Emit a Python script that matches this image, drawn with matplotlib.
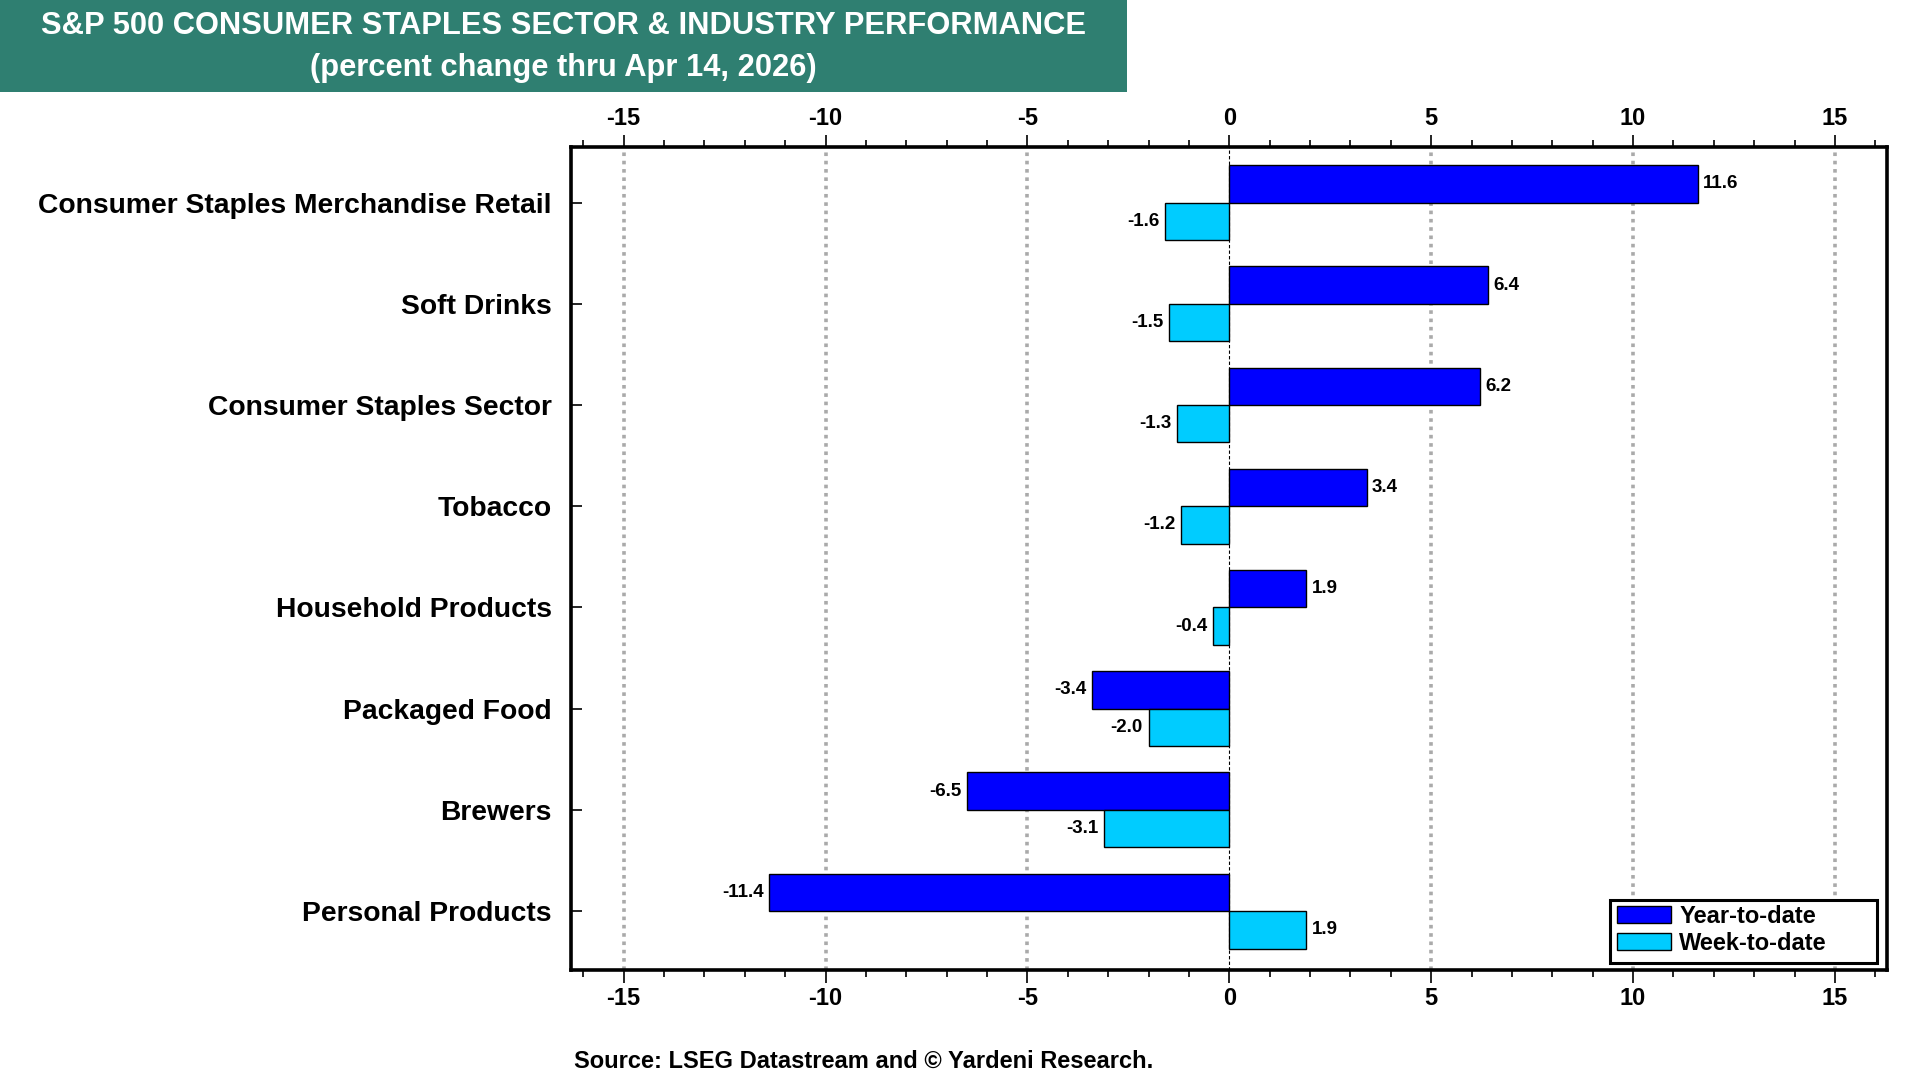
import matplotlib
matplotlib.use("Agg")
import matplotlib.pyplot as plt
from matplotlib.patches import Rectangle
from matplotlib.ticker import MultipleLocator
import numpy as np

categories = ["Consumer Staples Merchandise Retail", "Soft Drinks", "Consumer Staples Sector",
              "Tobacco", "Household Products", "Packaged Food", "Brewers", "Personal Products"]
ytd = [11.6, 6.4, 6.2, 3.4, 1.9, -3.4, -6.5, -11.4]
wtd = [-1.6, -1.5, -1.3, -1.2, -0.4, -2.0, -3.1, 1.9]
series_names = ["Year-to-date", "Week-to-date"]
xticks = [-15, -10, -5, 0, 5, 10, 15]

title1 = "S&P 500 CONSUMER STAPLES SECTOR & INDUSTRY PERFORMANCE"
title2 = "(percent change thru Apr 14, 2026)"
source = "Source: LSEG Datastream and \u00a9 Yardeni Research."

plt.rcParams['font.family'] = ['Liberation Sans', 'DejaVu Sans']
plt.rcParams['font.weight'] = 'bold'

fig = plt.figure(figsize=(19.2, 10.8), dpi=100)
ax = fig.add_axes([0.2975, 0.102, 0.6855, 0.762])

# title box
fig.patches.append(Rectangle((0, 0.915), 0.587, 0.085, transform=fig.transFigure,
                             facecolor="#2F7F71", edgecolor="none", zorder=0))
narrow = ['Liberation Sans Narrow', 'Liberation Sans', 'DejaVu Sans']
fig.text(0.2935, 0.976, title1, ha='center', va='center', color='white',
         fontsize=22.2, fontweight='bold', family=narrow)
fig.text(0.2935, 0.937, title2, ha='center', va='center', color='white',
         fontsize=22.2, fontweight='bold', family=narrow)
fig.text(0.299, 0.017, source, ha='left', va='center', color='black',
         fontsize=17, fontweight='bold', family=narrow)

y = np.arange(len(categories))
h = 0.37
c_ytd = "#0000FF"
c_wtd = "#00CCFF"
b1 = ax.barh(y - h / 2, ytd, height=h, color=c_ytd, edgecolor='black', linewidth=1,
             label=series_names[0], zorder=3)
b2 = ax.barh(y + h / 2, wtd, height=h, color=c_wtd, edgecolor='black', linewidth=1,
             label=series_names[1], zorder=3)

for bars, vals in ((b1, ytd), (b2, wtd)):
    for rect, v in zip(bars, vals):
        yc = rect.get_y() + rect.get_height() / 2
        if v >= 0:
            ax.annotate(f"{v:.1f}", (v, yc), xytext=(4, 0), textcoords='offset points',
                        ha='left', va='center', fontsize=13.5, fontweight='bold', family=narrow)
        else:
            ax.annotate(f"{v:.1f}", (v, yc), xytext=(-4, 0), textcoords='offset points',
                        ha='right', va='center', fontsize=13.5, fontweight='bold', family=narrow)

ax.set_xlim(-16.3, 16.3)
ax.set_ylim(len(categories) - 1 + 0.58, -0.55)

for xv in xticks:
    if xv == 0:
        ax.axvline(xv, color='black', linestyle=(0, (3, 2)), linewidth=0.8, zorder=2)
    else:
        ax.axvline(xv, color='#AAAAAA', linestyle=(0, (1, 1.3)), linewidth=2.6, zorder=1)

ax.set_xticks(xticks)
ax.xaxis.set_minor_locator(MultipleLocator(1))
ax.tick_params(axis='x', which='major', direction='out', length=9, width=1.2,
               top=True, bottom=True, labeltop=True, labelbottom=True,
               labelsize=17, pad=3)
ax.tick_params(axis='x', which='minor', direction='out', length=5, width=1.2,
               top=True, bottom=True)
ax.set_xticklabels([str(v) for v in xticks], fontweight='bold')

ax.set_yticks(y)
ax.set_yticklabels(categories, fontsize=20.3, fontweight='bold')
ax.tick_params(axis='y', which='major', direction='in', length=8, width=1.2,
               left=True, right=False, pad=14)

for s in ax.spines.values():
    s.set_linewidth(2.6)
    s.set_color('black')

# legend frame drawn separately (wide box with extra right space, as in reference)
frame = Rectangle((0.8385, 0.108), 0.139, 0.059, transform=fig.transFigure,
                  facecolor='white', edgecolor='black', linewidth=2.2, zorder=5,
                  clip_on=False)
ax.add_patch(frame)
leg = ax.legend(loc='upper left', bbox_to_anchor=(0.842, 0.162),
                bbox_transform=fig.transFigure, fontsize=17, frameon=False,
                handlelength=2.3, handleheight=0.75, handletextpad=0.35,
                labelspacing=0.15, borderpad=0.0, borderaxespad=0)
leg.set_zorder(6)
for t in leg.get_texts():
    t.set_fontweight('bold')

fig.savefig("out.png", dpi=100)
